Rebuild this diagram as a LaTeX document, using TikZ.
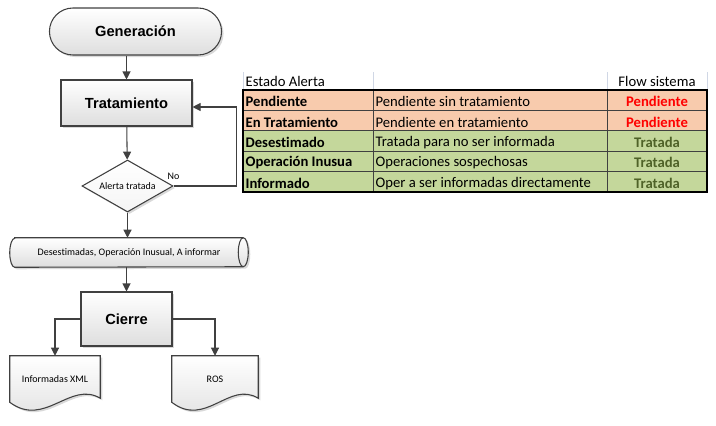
\documentclass[tikz,border=0pt]{standalone}
\usepackage{fontspec}
\setmainfont{Carlito}[Ligatures=NoCommon]
\newfontfamily\arialfont{Liberation Sans}
\usetikzlibrary{positioning, calc, arrows.meta, shapes.geometric, shapes.misc, shadows, backgrounds}
\newcommand{\tbf}[1]{\textbf{#1}}
\definecolor{lineg}{HTML}{404040}
\definecolor{rowora}{HTML}{F8CBAD}
\definecolor{rowgre}{HTML}{C4D79B}
\definecolor{txtred}{HTML}{FF0000}
\definecolor{txtgre}{HTML}{4F6228}
\definecolor{gridg}{HTML}{D0D7E5}

\begin{document}
\begin{tikzpicture}[
		x=0.75pt, y=-0.75pt,
		>={Triangle[length=6pt, width=6pt]},
		flowline/.style={draw=lineg, line width=0.8pt},
		boxshade/.style={draw=lineg, line width=0.8pt, top color=white, bottom color=black!13, drop shadow={shadow xshift=1.5pt, shadow yshift=-1.5pt, opacity=0.3}},
		bigtxt/.style={font=\arialfont\bfseries\fontsize{11}{13}\selectfont},
		smalltxt/.style={font=\fontsize{7.5}{9}\selectfont},
		terminal/.style={boxshade, bigtxt, rounded rectangle, minimum width=135.75pt, minimum height=35.25pt},
		process/.style={boxshade, bigtxt, rectangle, minimum height=34.5pt},
		decision/.style={boxshade, smalltxt, diamond, aspect=1.75, inner sep=0pt, minimum width=68.25pt, minimum height=39pt, top color=white, bottom color=black!4},
		plainbox/.style={smalltxt, inner sep=0pt},
		celltxt/.style={font=\fontsize{11}{13}\selectfont, inner sep=1pt},
	]
	\useasboundingbox (0,0) rectangle (716,425);

	\node[terminal] (gen) at (135.5,31.5) {Generación};
	\node[process, minimum width=98.25pt] (trat) at (126.5,103) {Tratamiento};
	\node[decision] (alerta) at (127.5,186) {Alerta tratada};
	\node[smalltxt, above=1pt of alerta.east] (no) {No};
	\node[plainbox, minimum width=178.5pt, minimum height=21.75pt] (bd) at (129,252.5) {Desestimadas, Operación Inusual, A informar};
	\node[process, minimum width=68.25pt, minimum height=40.5pt] (cierre) at (126.5,319) {Cierre};
	\node[plainbox, minimum width=67.5pt, minimum height=34.5pt] (xml) at (55,379) {Informadas XML};
	\node[plainbox, minimum width=64.5pt, minimum height=34.5pt] (ros) at (215,379) {ROS};

	\begin{scope}[on background layer]
		\draw[boxshade] ($(bd.north west)+(5,0)$) -- ($(bd.north east)+(-5,0)$) arc[start angle=90, end angle=-90, x radius=3.75pt, y radius=10.875pt] -- ($(bd.south west)+(5,0)$) arc[start angle=270, end angle=90, x radius=3.75pt, y radius=10.875pt] -- cycle;
		\draw[flowline] ($(bd.north east)+(-5,0)$) arc[start angle=90, end angle=270, x radius=3.75pt, y radius=10.875pt];
		\draw[boxshade] (xml.north west) -- (xml.north east) -- ($(xml.south east)+(0,-4)$) .. controls ($(xml.south east)+(-30,-22)$) and ($(xml.south west)+(35,26)$) .. (xml.south west) -- cycle;
		\draw[boxshade] (ros.north west) -- (ros.north east) -- ($(ros.south east)+(0,-4)$) .. controls ($(ros.south east)+(-29,-22)$) and ($(ros.south west)+(34,26)$) .. (ros.south west) -- cycle;
	\end{scope}

	\draw [->, flowline] (gen.south -| trat.north) -- (trat.north);
	\draw [->, flowline] (trat) -- (alerta);
	\draw [->, flowline] (alerta.east) -- ++(63,0) |- ([yshift=-3pt]trat.east);
	\draw [->, flowline] (alerta.south) -- (alerta.south |- bd.north);
	\draw [->, flowline] (bd.south -| cierre.north) -- (cierre.north);
	\draw [->, flowline] (cierre.west) -| (xml.north);
	\draw [->, flowline] (cierre.east) -| (ros.north);

	\fill[rowora] (243,90) rectangle (707,130.8);
	\fill[rowgre] (243,130.8) rectangle (707,192);
	\draw[gridg] (243,72) -- (243,90);
	\draw[gridg] (373,72) -- (373,90);
	\draw[gridg] (607,72) -- (607,90);
	\draw[gridg] (707,72) -- (707,90);
	\draw[lineg, line width=0.6pt] (243,110.4) -- (707,110.4);
	\draw[lineg, line width=0.6pt] (243,130.8) -- (707,130.8);
	\draw[lineg, line width=0.6pt] (243,151.2) -- (707,151.2);
	\draw[lineg, line width=0.6pt] (243,171.6) -- (707,171.6);
	\draw[lineg, line width=0.6pt] (373,90) -- (373,192);
	\draw[lineg, line width=0.6pt] (607,90) -- (607,192);
	\draw[line width=1.5pt] (243,90) rectangle (707,192);

	\node[celltxt, anchor=west] (est0) at (244,81.5) {Estado Alerta};
	\node[celltxt] (flow0) at (657,81.5) {Flow sistema};

	\node[celltxt, anchor=west] (est1) at (244,101.7) {\tbf{Pendiente}};
	\node[celltxt, anchor=west] (desc1) at (374,101.7) {Pendiente sin tratamiento};
	\node[celltxt, text=txtred] (flow1) at (657,101.7) {\tbf{Pendiente}};

	\node[celltxt, anchor=west] (est2) at (244,122.1) {\tbf{En Tratamiento}};
	\node[celltxt, anchor=west] (desc2) at (374,122.1) {Pendiente en tratamiento};
	\node[celltxt, text=txtred] (flow2) at (657,122.1) {\tbf{Pendiente}};

	\node[celltxt, anchor=west] (est3) at (244,142.5) {\tbf{Desestimado}};
	\node[celltxt, anchor=west] (desc3) at (374,142.5) {Tratada para no ser informada};
	\node[celltxt, text=txtgre] (flow3) at (657,142.5) {\tbf{Tratada}};

	\node[celltxt, anchor=west] (est4) at (244,162.9) {\tbf{Operación Inusua}};
	\node[celltxt, anchor=west] (desc4) at (374,162.9) {Operaciones sospechosas};
	\node[celltxt, text=txtgre] (flow4) at (657,162.9) {\tbf{Tratada}};

	\node[celltxt, anchor=west] (est5) at (244,183.3) {\tbf{Informado}};
	\node[celltxt, anchor=west] (desc5) at (374,183.3) {Oper a ser informadas directamente};
	\node[celltxt, text=txtgre] (flow5) at (657,183.3) {\tbf{Tratada}};
\end{tikzpicture}
\end{document}
